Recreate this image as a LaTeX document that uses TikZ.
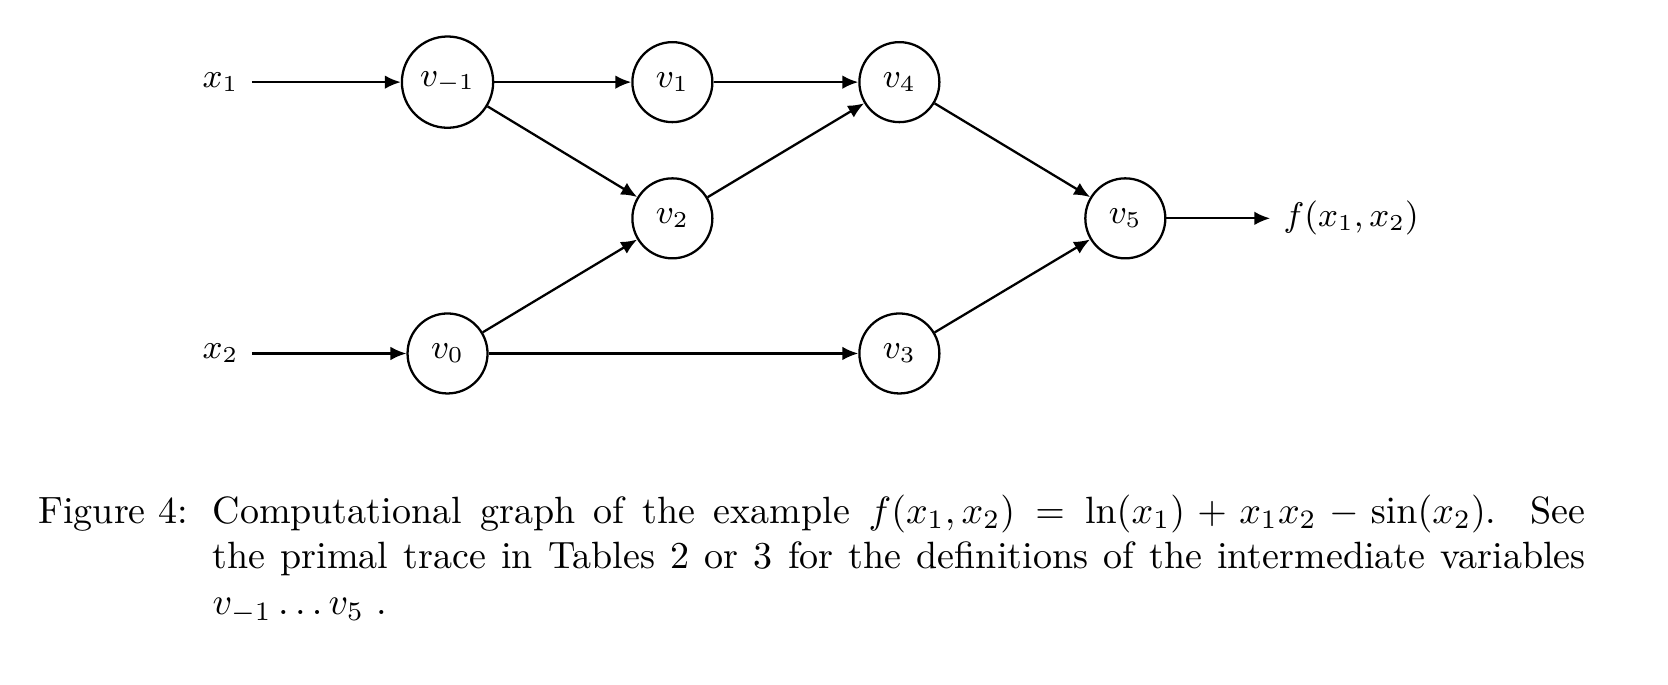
\documentclass[tikz,border=0pt]{standalone}
\usetikzlibrary{positioning,arrows.meta}

\begin{document}
\begin{tikzpicture}[
    >={Latex[length=4.2pt,width=3.6pt]},
    every node/.style={font=\small},
    var/.style={draw, circle, line width=0.6pt, minimum size=0.74cm, inner sep=3.2pt},
    flow/.style={->, line width=0.6pt},
    captxt/.style={font=\normalsize, inner sep=0pt, anchor=base west},
]
\useasboundingbox (0,0) rectangle (15.43,6.33);

% Column x positions
\def\colA{2.04}
\def\colB{4.14}
\def\colC{6.22}
\def\colD{8.32}
\def\colE{10.41}
\def\colF{12.50}

% Row y positions
\def\rowA{5.57}
\def\rowB{4.31}
\def\rowC{3.06}

% Row A: input x1, v_{-1}, v1, v4
\node (x1) at (\colA,\rowA) {$x_1$};
\node[var] (vm1) at (\colB,\rowA) {$v_{-1}$};
\node[var] (v1) at (\colC,\rowA) {$v_1$};
\node[var] (v4) at (\colD,\rowA) {$v_4$};

% Row B: v2, v5, output
\node[var] (v2) at (\colC,\rowB) {$v_2$};
\node[var] (v5) at (\colE,\rowB) {$v_5$};
\node (fout) at (\colF,\rowB) {$f(x_1,x_2)$};

% Row C: input x2, v0, v3
\node (x2) at (\colA,\rowC) {$x_2$};
\node[var] (v0) at (\colB,\rowC) {$v_0$};
\node[var] (v3) at (\colD,\rowC) {$v_3$};

% Connectors
\draw[flow] (x1) -- (vm1);
\draw[flow] (x2) -- (v0);
\draw[flow] (vm1) -- (v1);
\draw[flow] (vm1) -- (v2);
\draw[flow] (v0) -- (v2);
\draw[flow] (v0) -- (v3);
\draw[flow] (v1) -- (v4);
\draw[flow] (v2) -- (v4);
\draw[flow] (v4) -- (v5);
\draw[flow] (v3) -- (v5);
\draw[flow] (v5) -- (fout);

% Caption
\node[captxt] (figlab) at (0.35,1.49) {Figure 4:};
\node[captxt, text width=12.7cm, align=justify] (figtext) at (1.96,1.49)
  {Computational graph of the example $f(x_1,x_2)=\ln(x_1)+x_1x_2-\sin(x_2)$.  See\linebreak
   the primal trace in Tables 2 or 3 for the definitions of the intermediate variables\linebreak
   $v_{-1}\ldots v_5$ .};

\end{tikzpicture}
\end{document}
